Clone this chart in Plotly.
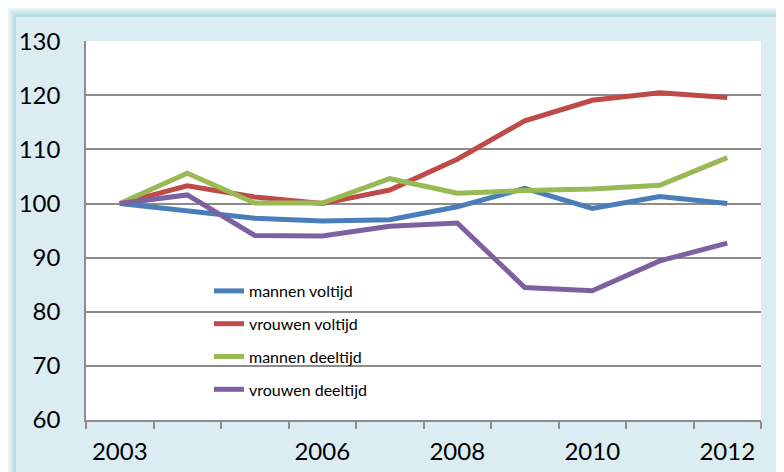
import plotly.graph_objects as go

years = ["2003", "2004", "2005", "2006", "2007", "2008", "2009", "2010", "2011", "2012"]
tick_labels = ["2003", "", "", "2006", "", "2008", "", "2010", "", "2012"]

mannen_voltijd = [100, 98.7, 97.3, 96.8, 97.0, 99.4, 102.8, 99.1, 101.3, 100.0]
vrouwen_voltijd = [100, 103.3, 101.2, 100.0, 102.5, 108.2, 115.3, 119.1, 120.5, 119.6]
mannen_deeltijd = [100, 105.6, 100.1, 100.1, 104.6, 101.9, 102.4, 102.7, 103.4, 108.5]
vrouwen_deeltijd = [100, 101.6, 94.1, 94.0, 95.8, 96.4, 84.5, 83.9, 89.4, 92.7]

series = [
    ("mannen voltijd", mannen_voltijd, "#4A7EBB"),
    ("vrouwen voltijd", vrouwen_voltijd, "#BE4B48"),
    ("mannen deeltijd", mannen_deeltijd, "#98B954"),
    ("vrouwen deeltijd", vrouwen_deeltijd, "#7D60A0"),
]

# page is offset by the browser's 8px body margin
OFF = 8
W, H = 784, 472
PLOT_L, PLOT_R, PLOT_T, PLOT_B = 86, 761, 41, 420   # page pixels
L = PLOT_L - OFF
T = PLOT_T - OFF
R = (W + OFF) - PLOT_R
B = (H + OFF) - PLOT_B
PW = PLOT_R - PLOT_L
PH = PLOT_B - PLOT_T


def px_x(px):
    return (px - PLOT_L) / PW


def px_y(py):
    return (PLOT_B - py) / PH


fig = go.Figure()
for i, (name, vals, col) in enumerate(series):
    fig.add_trace(go.Scatter(
        x=years, y=vals, mode="lines", name=name,
        line=dict(color=col, width=5),
        legendgroup=f"g{i}",
    ))

shapes = []
steps = 5
c0 = (245, 250, 252)
c1 = (182, 220, 230)
for k in range(steps):
    t = (k + 1) / steps
    col = tuple(int(c0[j] + (c1[j] - c0[j]) * t) for j in range(3))
    off = OFF + k * 1.6
    shapes.append(dict(
        type="rect", xref="paper", yref="paper", layer="below",
        x0=px_x(off), x1=px_x(W + 20), y0=px_y(H + 20), y1=px_y(off),
        line=dict(width=0), fillcolor="rgb(%d,%d,%d)" % col,
    ))
shapes.append(dict(
    type="rect", xref="paper", yref="paper", layer="below",
    x0=px_x(16), x1=px_x(W + 20), y0=px_y(H + 20), y1=px_y(17),
    line=dict(width=0), fillcolor="#DBEDF3",
))
shapes.append(dict(
    type="rect", xref="paper", yref="paper", layer="below",
    x0=0, x1=1, y0=0, y1=1, line=dict(width=0), fillcolor="#FFFFFF",
))

fig.update_layout(
    width=W, height=H,
    margin=dict(l=L, r=R, t=T, b=B),
    paper_bgcolor="#DBEDF3",
    plot_bgcolor="rgba(0,0,0,0)",
    font=dict(family="Lato, Open Sans, sans-serif", color="#000000"),
    shapes=shapes,
    showlegend=True,
    legend=dict(
        x=px_x(209), y=px_y(274), xanchor="left", yanchor="top",
        bgcolor="rgba(0,0,0,0)", font=dict(size=16, color="#000000"),
        tracegroupgap=9, traceorder="grouped",
    ),
    xaxis=dict(
        type="category", categoryorder="array", categoryarray=years,
        tickmode="array", tickvals=years, ticktext=tick_labels,
        tickson="boundaries", ticks="outside", ticklen=7, tickwidth=1.5,
        tickcolor="#8C8C8C", showline=True, linecolor="#8C8C8C", linewidth=1.5,
        showgrid=False, tickfont=dict(size=24), ticklabelstandoff=9,
        range=[-0.5, 9.5],
    ),
    yaxis=dict(
        range=[60, 130.05], tickmode="array", tickvals=[60, 70, 80, 90, 100, 110, 120, 130],
        showgrid=True, gridcolor="#8C8C8C", gridwidth=1.5,
        showline=True, linecolor="#8C8C8C", linewidth=1.5,
        ticks="", tickfont=dict(size=24), ticklabelstandoff=19,
        zeroline=False,
    ),
)

fig.write_html("out.html")
